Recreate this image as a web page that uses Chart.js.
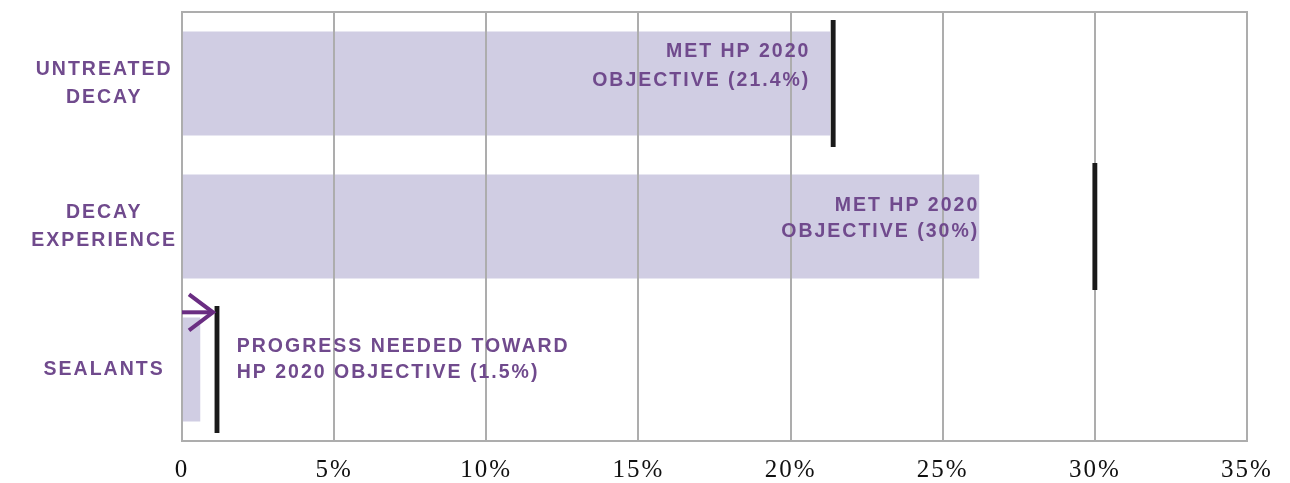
<!DOCTYPE html>
<html><head><meta charset="utf-8">
<script src="https://cdn.jsdelivr.net/npm/chart.js@4/dist/chart.umd.min.js"></script>
<style>html,body{margin:0;padding:0;background:#fff;}</style>
</head><body>
<canvas id="c" width="1290" height="483" style="display:block;width:1290px;height:483px"></canvas>
<script>
// ---- data ----
const categories = [['UNTREATED', 'DECAY'], ['DECAY', 'EXPERIENCE'], ['SEALANTS']];
const currentValues = [21.3, 26.2, 0.6];
const objectiveValues = [21.4, 30, 1.15];
const xTickValues = [0, 5, 10, 15, 20, 25, 30, 35];
const xTickLabels = ['0', '5%', '10%', '15%', '20%', '25%', '30%', '35%'];
const noteLines = [
  ['MET HP 2020', 'OBJECTIVE (21.4%)'],
  ['MET HP 2020', 'OBJECTIVE (30%)'],
  ['PROGRESS NEEDED TOWARD', 'HP 2020 OBJECTIVE (1.5%)']
];
const noteAnchorValues = [20.65, 26.2, 1.8];

// ---- styles / layout ----
const PURPLE = '#704a8d';
const ARROW = '#6a2d82';
const BAR = '#d0cde3';
const GRID = '#adadad';
const markerHalfWidth = 0.08;
const noteAlign = ['right', 'right', 'left'];
const noteOffsets = [[-32, -3], [-21, 5], [-23, 3]];
const LABEL_FONT = 'bold 19.5px "Liberation Sans", Arial, sans-serif';

const spacingPlugin = {
  id: 'spacing',
  beforeLayout(c) { c.ctx.letterSpacing = '2px'; },
  beforeDraw(c) { c.ctx.letterSpacing = '2px'; }
};

const gridOverBars = {
  id: 'gridOverBars',
  afterDatasetDraw(chart, args) {
    if (args.index !== 0) return;
    chart.scales.x.drawGrid(chart.chartArea);
    const a = chart.chartArea, ctx = chart.ctx;
    ctx.save();
    ctx.strokeStyle = GRID; ctx.lineWidth = 2;
    ctx.strokeRect(a.left, a.top, a.right - a.left, a.bottom - a.top);
    ctx.restore();
  }
};

const notesPlugin = {
  id: 'notes',
  afterDatasetsDraw(chart) {
    const ctx = chart.ctx, xs = chart.scales.x, ys = chart.scales.y;
    ctx.save();
    ctx.letterSpacing = '2px';
    ctx.font = LABEL_FONT;
    ctx.fillStyle = PURPLE;
    ctx.textBaseline = 'middle';
    noteLines.forEach((lines, i) => {
      const x = xs.getPixelForValue(noteAnchorValues[i]);
      const yc = ys.getPixelForValue(i);
      ctx.textAlign = noteAlign[i];
      lines.forEach((t, k) => ctx.fillText(t, x, yc + noteOffsets[i][k]));
    });
    // arrow toward the sealants objective
    const si = 2;
    const band = (ys.bottom - ys.top) / categories.length;
    const y = ys.getPixelForValue(si) - 0.40 * band;
    const x0 = xs.getPixelForValue(0);
    const x1 = xs.getPixelForValue(objectiveValues[si]) - 4;
    ctx.strokeStyle = ARROW; ctx.lineWidth = 4; ctx.lineCap = 'butt';
    ctx.beginPath(); ctx.moveTo(x0, y); ctx.lineTo(x1, y); ctx.stroke();
    ctx.beginPath(); ctx.moveTo(x1 - 24, y - 18); ctx.lineTo(x1, y); ctx.lineTo(x1 - 24, y + 18); ctx.stroke();
    ctx.restore();
  }
};

new Chart(document.getElementById('c'), {
  type: 'bar',
  data: {
    labels: categories,
    datasets: [
      { data: currentValues, backgroundColor: BAR, barPercentage: 0.727, categoryPercentage: 1, grouped: false, order: 1 },
      { data: objectiveValues.map(v => [v - markerHalfWidth, v + markerHalfWidth]), backgroundColor: '#1a1a1a',
        barPercentage: 0.888, categoryPercentage: 1, grouped: false, order: 0 }
    ]
  },
  options: {
    indexAxis: 'y',
    responsive: false,
    animation: false,
    events: [],
    layout: { padding: { left: 0, right: 43, top: 12, bottom: 0 } },
    plugins: { legend: { display: false }, tooltip: { enabled: false }, title: { display: false } },
    scales: {
      x: {
        type: 'linear', min: 0, max: 35,
        afterBuildTicks(s) { s.ticks = xTickValues.map(v => ({ value: v })); },
        afterFit(s) { s.height = 42; },
        grid: { color: GRID, lineWidth: 2, drawTicks: false },
        border: { display: false },
        ticks: {
          padding: 14, color: '#111',
          font: { family: '"Liberation Serif", "Times New Roman", serif', size: 25 },
          callback: (v, i) => xTickLabels[i]
        }
      },
      y: {
        afterFit(s) { s.width = 182; s.paddingTop = 0; s.paddingBottom = 0; },
        grid: { display: false, drawTicks: false },
        border: { display: false },
        ticks: {
          crossAlign: 'center', padding: 5, color: PURPLE,
          font: { family: '"Liberation Sans", Arial, sans-serif', size: 19.5, weight: 'bold', lineHeight: 1.4 }
        }
      }
    }
  },
  plugins: [spacingPlugin, gridOverBars, notesPlugin]
});
</script>
</body></html>
